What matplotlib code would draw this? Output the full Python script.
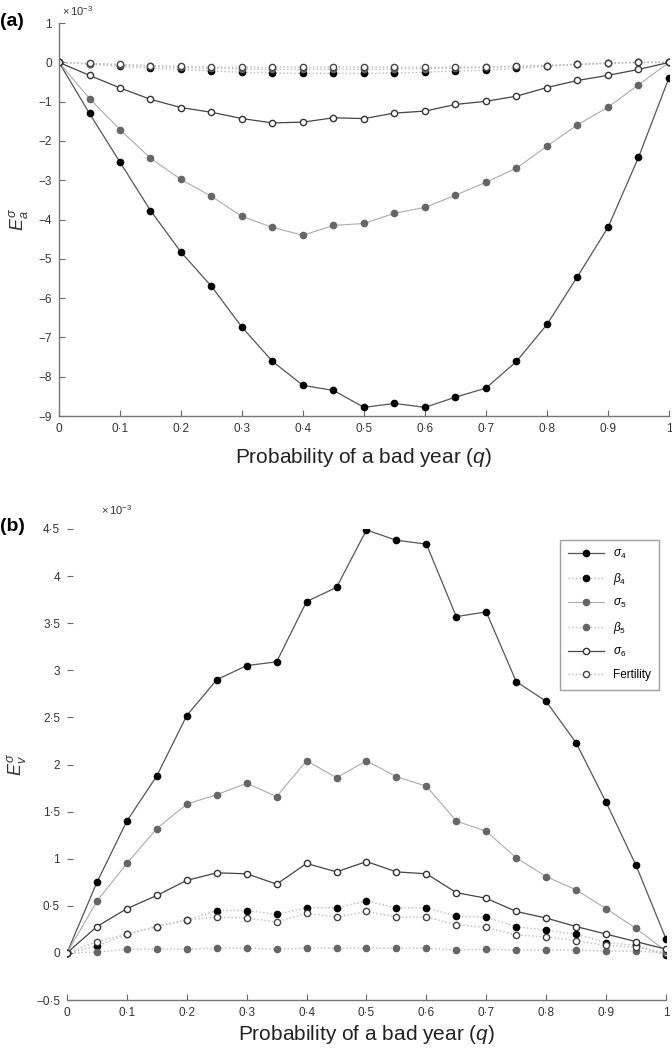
import numpy as np
import matplotlib
matplotlib.use("Agg")
import matplotlib.pyplot as plt
from matplotlib.ticker import FixedLocator, FuncFormatter

plt.rcParams["font.family"] = ["Liberation Sans", "DejaVu Sans"]
plt.rcParams["mathtext.fontset"] = "custom"
plt.rcParams["mathtext.rm"] = "Liberation Sans"
plt.rcParams["mathtext.it"] = "Liberation Sans:italic"
plt.rcParams["mathtext.bf"] = "Liberation Sans:bold"

q = [0.0, 0.05, 0.1, 0.15, 0.2, 0.25, 0.3, 0.35, 0.4, 0.45, 0.5,
     0.55, 0.6, 0.65, 0.7, 0.75, 0.8, 0.85, 0.9, 0.95, 1.0]

# Panel (a) values (x 10^-3)
a_sigma4 = [0, -1.30, -2.54, -3.77, -4.83, -5.70, -6.74, -7.61, -8.22, -8.35, -8.78,
            -8.68, -8.78, -8.52, -8.29, -7.61, -6.67, -5.45, -4.20, -2.42, -0.39]
a_beta4 = [0, -0.05, -0.10, -0.15, -0.18, -0.22, -0.25, -0.27, -0.28, -0.28, -0.28,
           -0.27, -0.25, -0.22, -0.20, -0.15, -0.10, -0.05, -0.02, 0, 0]
a_sigma5 = [0, -0.92, -1.71, -2.44, -2.98, -3.41, -3.92, -4.20, -4.40, -4.15, -4.10,
            -3.84, -3.69, -3.38, -3.05, -2.69, -2.13, -1.59, -1.14, -0.57, 0.0]
a_beta5 = [0, -0.03, -0.07, -0.10, -0.13, -0.15, -0.17, -0.18, -0.18, -0.18, -0.18,
           -0.17, -0.16, -0.15, -0.13, -0.10, -0.08, -0.05, -0.02, 0, 0]
a_sigma6 = [0, -0.33, -0.65, -0.94, -1.15, -1.27, -1.43, -1.54, -1.52, -1.41, -1.43,
            -1.29, -1.24, -1.07, -0.99, -0.86, -0.64, -0.46, -0.33, -0.18, 0.0]
a_fert = [0, -0.02, -0.05, -0.08, -0.10, -0.12, -0.12, -0.12, -0.12, -0.12, -0.12,
          -0.12, -0.12, -0.12, -0.12, -0.10, -0.08, -0.05, -0.02, 0, 0]

# Panel (b) values (x 10^-3)
b_sigma4 = [0, 0.75, 1.40, 1.88, 2.52, 2.90, 3.05, 3.09, 3.73, 3.88, 4.49,
            4.38, 4.34, 3.57, 3.62, 2.88, 2.67, 2.23, 1.60, 0.93, 0.15]
b_beta4 = [0, 0.07, 0.20, 0.28, 0.35, 0.45, 0.45, 0.41, 0.48, 0.48, 0.55,
           0.48, 0.48, 0.39, 0.38, 0.28, 0.24, 0.20, 0.11, 0.08, -0.02]
b_sigma5 = [0, 0.55, 0.95, 1.32, 1.58, 1.68, 1.80, 1.66, 2.04, 1.86, 2.04,
            1.87, 1.77, 1.40, 1.29, 1.01, 0.81, 0.67, 0.47, 0.26, 0.02]
b_beta5 = [0, 0.01, 0.04, 0.04, 0.04, 0.05, 0.05, 0.04, 0.05, 0.05, 0.05,
           0.05, 0.05, 0.03, 0.04, 0.03, 0.03, 0.03, 0.02, 0.02, 0.0]
b_sigma6 = [0, 0.28, 0.47, 0.61, 0.77, 0.85, 0.84, 0.73, 0.95, 0.86, 0.97,
            0.86, 0.84, 0.64, 0.58, 0.44, 0.37, 0.28, 0.20, 0.12, 0.04]
b_fert = [0, 0.12, 0.20, 0.28, 0.35, 0.38, 0.37, 0.33, 0.42, 0.38, 0.44,
          0.38, 0.38, 0.30, 0.27, 0.19, 0.17, 0.13, 0.08, 0.06, 0.0]

labels = [r"$\sigma_4$", r"$\beta_4$", r"$\sigma_5$", r"$\beta_5$", r"$\sigma_6$", "Fertility"]

styles = [
    dict(color="#555555", ls="-", lw=0.9, marker="o", mfc="black", mec="black"),
    dict(color="#bbbbbb", ls=":", lw=1.0, marker="o", mfc="black", mec="black"),
    dict(color="#aaaaaa", ls="-", lw=0.8, marker="o", mfc="#666666", mec="#666666"),
    dict(color="#bbbbbb", ls=":", lw=1.0, marker="o", mfc="#666666", mec="#666666"),
    dict(color="#444444", ls="-", lw=0.9, marker="o", mfc="white", mec="#333333"),
    dict(color="#bbbbbb", ls=":", lw=1.0, marker="o", mfc="white", mec="#444444"),
]

fig = plt.figure(figsize=(6.72, 10.5), dpi=100)
ax_a = fig.add_axes([0.0878, 0.6038, 0.9077, 0.3742])
ax_b = fig.add_axes([0.0997, 0.0476, 0.8913, 0.4486])

def dot(v, pos=None):
    s = ("%g" % v).replace(".", "\u00b7")
    if v < 0:
        s = "\u2212" + s[1:]
    return s

xt = [0, 0.1, 0.2, 0.3, 0.4, 0.5, 0.6, 0.7, 0.8, 0.9, 1.0]

def style_axes(ax, yticks, show_left, lpad):
    ax.set_xlim(0, 1)
    ax.xaxis.set_major_locator(FixedLocator(xt))
    ax.yaxis.set_major_locator(FixedLocator(yticks))
    ax.xaxis.set_major_formatter(FuncFormatter(dot))
    ax.yaxis.set_major_formatter(FuncFormatter(dot))
    ax.spines["top"].set_visible(False)
    ax.spines["right"].set_visible(False)
    ax.spines["left"].set_visible(show_left)
    for s in ("left", "bottom"):
        ax.spines[s].set_color("#777777")
        ax.spines[s].set_linewidth(1.0)
    ax.tick_params(direction="in", length=4, width=0.8, color="#666666",
                   labelsize=8.5, labelcolor="#333333", pad=5)
    ax.set_xlabel(r"Probability of a bad year ($q$)", fontsize=15, color="#222222", labelpad=lpad)

series_a = [a_sigma4, a_beta4, a_sigma5, a_beta5, a_sigma6, a_fert]
order_a = [1, 3, 5, 0, 2, 4]
for i in order_a:
    ax_a.plot(q, series_a[i], ms=4.5, mew=1.0, label=labels[i], **styles[i])
ax_a.set_ylim(-9, 1)
style_axes(ax_a, list(range(-9, 2)), True, 8)
ax_a.set_ylabel(r"$E^{\sigma}_{a}$", fontsize=13, color="#333333", labelpad=6)
fig.text(0.0, 0.988, "(a)", fontsize=14, fontweight="bold", va="top", ha="left")
fig.text(0.092, 0.996, r"$\times\,10^{-3}$", fontsize=8, color="#333333", va="top", ha="left")

series_b = [b_sigma4, b_beta4, b_sigma5, b_beta5, b_sigma6, b_fert]
handles = [None] * 6
for i in order_a:
    h, = ax_b.plot(q, series_b[i], ms=4.5, mew=1.0, label=labels[i], **styles[i])
    handles[i] = h
ax_b.set_ylim(-0.5, 4.5)
style_axes(ax_b, [-0.5, 0, 0.5, 1, 1.5, 2, 2.5, 3, 3.5, 4, 4.5], False, 3)
ax_b.set_ylabel(r"$E^{\sigma}_{v}$", fontsize=13, color="#333333", labelpad=6)
fig.text(0.0, 0.507, "(b)", fontsize=14, fontweight="bold", va="top", ha="left")
fig.text(0.150, 0.521, r"$\times\,10^{-3}$", fontsize=8, color="#333333", va="top", ha="left")

leg = ax_b.legend(handles=handles, loc="upper right", bbox_to_anchor=(0.999, 0.99),
                  fontsize=8.5, frameon=True, fancybox=False, edgecolor="#888888",
                  handlelength=3.0, labelspacing=0.85, borderpad=0.7)
leg.get_frame().set_linewidth(1.0)

fig.savefig("out.png", dpi=100)
